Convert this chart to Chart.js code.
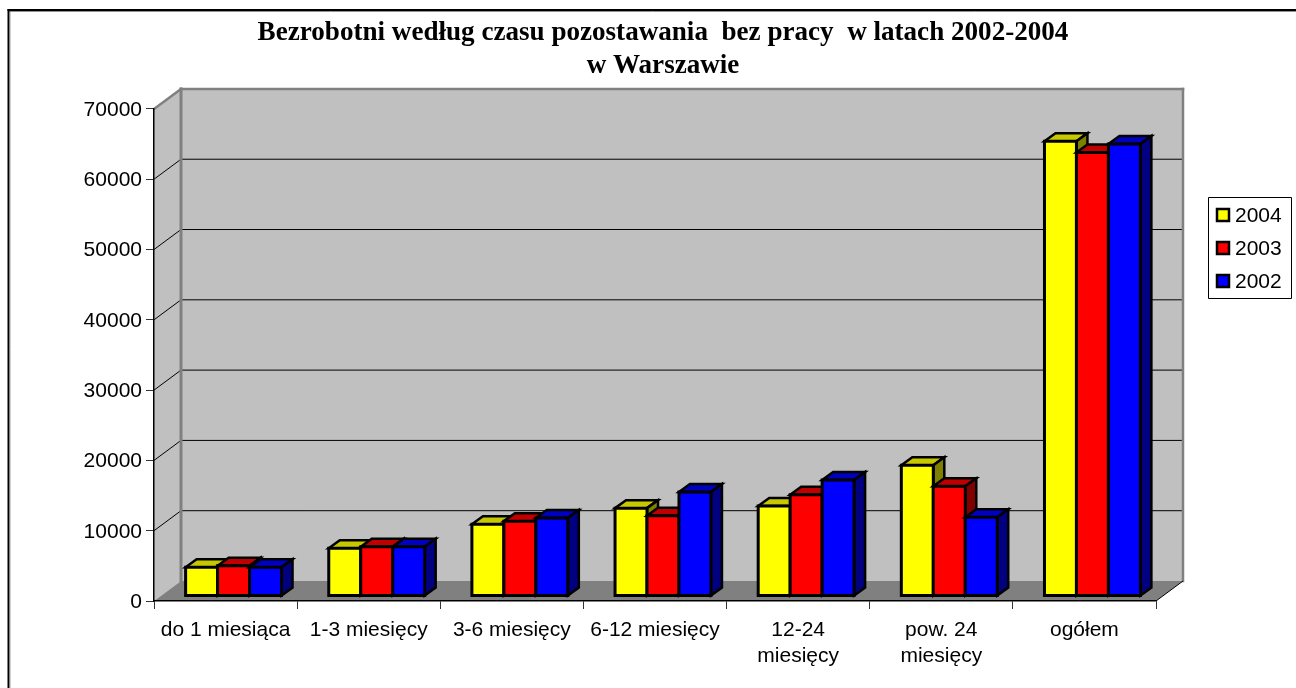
<!DOCTYPE html>
<html>
<head>
<meta charset="utf-8">
<title>Bezrobotni</title>
<script src="https://cdn.jsdelivr.net/npm/chart.js@4"></script>
<style>
    html, body { margin: 0; padding: 0; background: #fff; }
    canvas { display: block; }
</style>
</head>
<body>
<canvas id="barChart" width="1296" height="688"></canvas>
<script>
var categories = ['do 1 miesiąca', '1-3 miesięcy', '3-6 miesięcy', '6-12 miesięcy',
    ['12-24', 'miesięcy'], ['pow. 24', 'miesięcy'], 'ogółem'];
var years = ['2004', '2003', '2002'];
var values2004 = [4100, 6800, 10200, 12500, 12800, 18600, 64700];
var values2003 = [4300, 7000, 10650, 11400, 14400, 15600, 63100];
var values2002 = [4100, 7000, 11100, 14800, 16500, 11200, 64300];
var titleLines = ['Bezrobotni według czasu pozostawania  bez pracy  w latach 2002-2004', 'w Warszawie'];

var frontColors = ['#ffff00', '#ff0000', '#0000ff'];
var topColors = ['#c8c800', '#c00000', '#0000c0'];
var sideColors = ['#808000', '#800000', '#000080'];

var wallDx = 27, wallDy = -20;   // depth of the 3d box
var barDx = 8, barDy = -5;       // bars stand inside the box
var capDx = 11, capDy = -8;      // depth of one bar

function poly(ctx, pts, fill, stroke, width) {
    ctx.beginPath();
    ctx.moveTo(pts[0][0], pts[0][1]);
    for (var i = 1; i < pts.length; i++) ctx.lineTo(pts[i][0], pts[i][1]);
    ctx.closePath();
    if (fill) { ctx.fillStyle = fill; ctx.fill(); }
    if (stroke) { ctx.strokeStyle = stroke; ctx.lineWidth = width; ctx.lineJoin = 'miter'; ctx.stroke(); }
}

function line(ctx, x1, y1, x2, y2, color, width) {
    ctx.beginPath();
    ctx.moveTo(x1, y1);
    ctx.lineTo(x2, y2);
    ctx.strokeStyle = color;
    ctx.lineWidth = width;
    ctx.stroke();
}

// walls, floor, gridlines, outer frame and legend
var boxPlugin = {
    id: 'box',
    afterLayout: function (chart) {
        // the title sits right of the canvas centre
        chart.titleBlock.left = 30;
        chart.titleBlock.right = 1296;
    },
    beforeDraw: function (chart) {
        var ctx = chart.ctx, a = chart.chartArea, y = chart.scales.y;
        var l = a.left, r = a.right, t = a.top, b = a.bottom;
        ctx.save();
        line(ctx, 10.5, 688, 10.5, 11, '#d0d0d0', 1);
        line(ctx, 9, 11.5, 1296, 11.5, '#909090', 1);
        line(ctx, 8.5, 688, 8.5, 9, '#000', 2);
        line(ctx, 7.5, 10, 1296, 10, '#000', 2);

        poly(ctx, [[l + wallDx, t + wallDy], [r + wallDx, t + wallDy], [r + wallDx, b + wallDy], [l + wallDx, b + wallDy]], '#c0c0c0');
        poly(ctx, [[l, t], [l + wallDx, t + wallDy], [l + wallDx, b + wallDy], [l, b]], '#c0c0c0');
        poly(ctx, [[l, b], [l + wallDx, b + wallDy], [r + wallDx, b + wallDy], [r, b]], '#808080');

        y.ticks.forEach(function (tick) {
            if (tick.value === 0 || tick.value === y.max) return;
            var py = y.getPixelForValue(tick.value);
            line(ctx, l, py, l + wallDx, py + wallDy, '#000', 1);
            line(ctx, l + wallDx, py + wallDy, r + wallDx, py + wallDy, '#000', 1);
        });

        // grey edges of the box
        ctx.lineCap = 'square';
        line(ctx, l, t, l + wallDx, t + wallDy, '#808080', 2.5);
        line(ctx, l + wallDx, t + wallDy, r + wallDx, t + wallDy, '#808080', 2.5);
        line(ctx, r + wallDx, t + wallDy, r + wallDx, b + wallDy, '#808080', 2.5);
        line(ctx, l + wallDx, t + wallDy, l + wallDx, b + wallDy, '#808080', 3);
        ctx.lineCap = 'butt';
        line(ctx, r, b, r + wallDx, b + wallDy, '#000', 1);
        ctx.restore();
    },
    // left series first, so the next bar covers the side of the previous one
    beforeDatasetsDraw: function (chart) {
        var ctx = chart.ctx;
        ctx.save();
        ctx.translate(barDx, barDy);
        chart.data.datasets.forEach(function (ds, c) {
            var meta = chart.getDatasetMeta(c);
            meta.data.forEach(function (bar) {
                var x1 = bar.x - bar.width / 2, x2 = bar.x + bar.width / 2;
                var top = bar.y, base = bar.base;
                poly(ctx, [[x1, top], [x1 + capDx, top + capDy], [x2 + capDx, top + capDy], [x2, top]], topColors[c], '#000', 2.5);
                poly(ctx, [[x2, top], [x2 + capDx, top + capDy], [x2 + capDx, base + capDy], [x2, base]], sideColors[c], '#000', 2.5);
            });
            meta.controller.draw();
            meta.data.forEach(function (bar) {
                var x1 = bar.x - bar.width / 2, x2 = bar.x + bar.width / 2;
                poly(ctx, [[x1, bar.y], [x2, bar.y], [x2, bar.base], [x1, bar.base]], null, '#000', 3);
            });
        });
        ctx.restore();
        return false;
    },
    afterDraw: function (chart) {
        var ctx = chart.ctx;
        ctx.save();
        poly(ctx, [[1208.5, 197.5], [1291.5, 197.5], [1291.5, 298.5], [1208.5, 298.5]], '#fff', '#000', 1);
        ctx.font = '21px "Liberation Sans"';
        ctx.textBaseline = 'middle';
        ctx.textAlign = 'left';
        years.forEach(function (year, i) {
            var ly = 215 + i * 33;
            poly(ctx, [[1217, ly - 6], [1229, ly - 6], [1229, ly + 6], [1217, ly + 6]], frontColors[i], '#000', 2.5);
            ctx.fillStyle = '#000';
            ctx.fillText(year, 1235, ly + 1);
        });
        ctx.restore();
    }
};

var barChart = new Chart(document.getElementById('barChart').getContext('2d'), {
    type: 'bar',
    data: {
        labels: categories,
        datasets: [
            { label: years[0], data: values2004, backgroundColor: frontColors[0] },
            { label: years[1], data: values2003, backgroundColor: frontColors[1] },
            { label: years[2], data: values2002, backgroundColor: frontColors[2] }
        ]
    },
    options: {
        responsive: false,
        animation: false,
        layout: { padding: { left: 0, right: 140, top: 0, bottom: 0 } },
        categoryPercentage: 0.67,
        barPercentage: 1,
        borderWidth: 0,
        plugins: {
            legend: { display: false },
            tooltip: { enabled: false },
            title: {
                display: true,
                text: titleLines,
                color: '#000',
                font: { family: '"Liberation Serif"', size: 27.1, weight: 'bold', lineHeight: 1.22 },
                padding: { top: 16.5, bottom: 26.3 }
            }
        },
        scales: {
            x: {
                offset: true,
                afterFit: function (scale) { scale.height = 87; },
                border: { color: '#000', width: 1.5 },
                grid: { offset: true, drawOnChartArea: false, tickLength: 8, tickColor: '#333', tickWidth: 1 },
                ticks: {
                    autoSkip: false,
                    maxRotation: 0,
                    padding: 8,
                    color: '#000',
                    font: { family: '"Liberation Sans"', size: 21, lineHeight: 1.25 }
                }
            },
            y: {
                min: 0,
                max: 70000,
                afterFit: function (scale) { scale.width = 154; },
                border: { color: '#000', width: 1.5 },
                grid: { drawOnChartArea: false, tickLength: 8, tickColor: '#333', tickWidth: 1 },
                ticks: {
                    stepSize: 10000,
                    padding: 4,
                    labelOffset: 1,
                    color: '#000',
                    font: { family: '"Liberation Sans"', size: 21 },
                    callback: function (value) { return String(value); }
                }
            }
        }
    },
    plugins: [boxPlugin]
});
</script>
</body>
</html>
